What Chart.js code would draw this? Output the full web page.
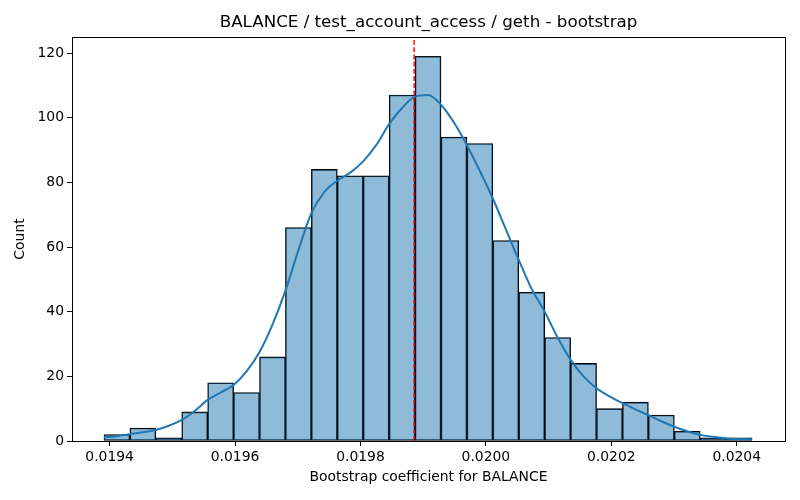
<!DOCTYPE html>
<html>
<head>
<meta charset="utf-8">
<script src="https://cdn.jsdelivr.net/npm/chart.js@4.4.1/dist/chart.umd.min.js"></script>
<style>
  html, body { margin: 0; padding: 0; background: #ffffff; }
  #wrap { width: 800px; height: 500px; }
</style>
</head>
<body>
<div id="wrap"><canvas id="c" width="800" height="500"></canvas></div>
<script>
// ---- data ----
const titleText = "BALANCE / test_account_access / geth - bootstrap";
const xLabel = "Bootstrap coefficient for BALANCE";
const yLabel = "Count";

const binStart = 0.019391;     // left edge of first bin
const binWidth = 0.00004134;   // bin width
const counts = [2, 4, 1, 9, 18, 15, 26, 66, 84, 82, 82, 107, 119, 94, 92, 62, 46, 32, 24, 10, 12, 8, 3, 1, 1];

// KDE curve (scaled to counts), sampled every half bin from the first to the last bin edge
const kdeY = [1.1, 1.5, 2.1, 2.7, 3.4, 4.7, 6.5, 9.3, 12.7, 15.0,
              17.3, 21.5, 27.5, 36, 46.5, 59, 70.5, 77, 80.5, 83,
              86.5, 91.5, 98, 103, 106.5, 107, 104, 98.5, 91.5, 83.5,
              75, 65.5, 56, 47, 40, 32, 25.1, 20, 16.3, 13.8,
              11.7, 9.8, 8.0, 6.1, 4.4, 3.0, 1.9, 1.3, 0.8, 0.6, 0.5];

const meanLineX = 0.0198856;

const xTicks = [0.0194, 0.0196, 0.0198, 0.0200, 0.0202, 0.0204];
const yTicks = [0, 20, 40, 60, 80, 100, 120];
const xMin = 0.01934, xMax = 0.020477;
const yMin = 0, yMax = 124.95;

// ---- build datasets ----
const barData = counts.map((c, i) => ({ x: binStart + (i + 0.5) * binWidth, y: c }));
const kdeData = kdeY.map((v, i) => ({ x: binStart + i * binWidth / 2, y: v }));
const meanData = [{ x: meanLineX, y: yMin }, { x: meanLineX, y: yMax }];

Chart.defaults.font.family = "'DejaVu Sans', sans-serif";
Chart.defaults.color = '#000000';

const framePlugin = {
  id: 'frame',
  afterDatasetsDraw(chart) {
    const { ctx, chartArea: a } = chart;
    ctx.save();
    ctx.strokeStyle = '#000000';
    ctx.lineWidth = 1;
    ctx.strokeRect(Math.round(a.left) + 0.5, Math.round(a.top) + 0.5,
                   Math.round(a.right - a.left), Math.round(a.bottom - a.top));
    ctx.restore();
  }
};

const axesTitlePlugin = {
  id: 'axesTitle',
  afterDraw(chart) {
    const { ctx, chartArea: a } = chart;
    ctx.save();
    ctx.fillStyle = '#000000';
    ctx.font = "16.7px 'DejaVu Sans', sans-serif";
    ctx.textAlign = 'center';
    ctx.textBaseline = 'middle';
    ctx.fillText(titleText, (a.left + a.right) / 2, 23);
    ctx.restore();
  }
};

new Chart(document.getElementById('c'), {
  type: 'bar',
  data: {
    datasets: [
      {
        type: 'line',
        data: meanData,
        borderColor: '#ff0000',
        borderWidth: 1.4,
        borderDash: [5, 2.2],
        pointRadius: 0,
        fill: false,
        order: 1
      },
      {
        type: 'line',
        data: kdeData,
        borderColor: '#1f77b4',
        borderWidth: 2,
        pointRadius: 0,
        fill: false,
        cubicInterpolationMode: 'monotone',
        order: 2
      },
      {
        type: 'bar',
        data: barData,
        backgroundColor: 'rgba(31,119,180,0.5)',
        borderColor: '#000000',
        borderWidth: 0.9,
        borderSkipped: false,
        barPercentage: 1.0,
        categoryPercentage: 1.0,
        order: 3
      }
    ]
  },
  options: {
    responsive: false,
    animation: false,
    layout: { padding: { left: 0, right: 15, top: 37, bottom: 0 } },
    plugins: {
      legend: { display: false },
      tooltip: { enabled: false },
      title: { display: false }
    },
    scales: {
      x: {
        type: 'linear',
        min: xMin,
        max: xMax,
        offset: false,
        afterBuildTicks(scale) { scale.ticks = xTicks.map(v => ({ value: v })); },
        afterFit(scale) { scale.height = 59; },
        ticks: {
          color: '#000000',
          font: { size: 13.9 },
          padding: 3,
          maxRotation: 0,
          autoSkip: false,
          callback: (v) => Number(v).toFixed(4)
        },
        grid: { display: true, offset: false, drawOnChartArea: false, drawTicks: true, tickLength: 5, color: '#000000', lineWidth: 1 },
        border: { display: true, color: '#000000', width: 1 },
        title: { display: true, text: xLabel, color: '#000000', font: { size: 13.9 }, padding: { top: 0, bottom: 14 } }
      },
      y: {
        type: 'linear',
        min: yMin,
        max: yMax,
        afterBuildTicks(scale) { scale.ticks = yTicks.map(v => ({ value: v })); },
        afterFit(scale) { scale.width = 72; },
        ticks: {
          color: '#000000',
          font: { size: 13.9 },
          padding: 3,
          autoSkip: false,
          callback: (v) => String(v)
        },
        grid: { display: true, offset: false, drawOnChartArea: false, drawTicks: true, tickLength: 5, color: '#000000', lineWidth: 1 },
        border: { display: true, color: '#000000', width: 1 },
        title: { display: true, text: yLabel, color: '#000000', font: { size: 13.9 }, padding: { top: 12, bottom: 0 } }
      }
    }
  },
  plugins: [framePlugin, axesTitlePlugin]
});
</script>
</body>
</html>
